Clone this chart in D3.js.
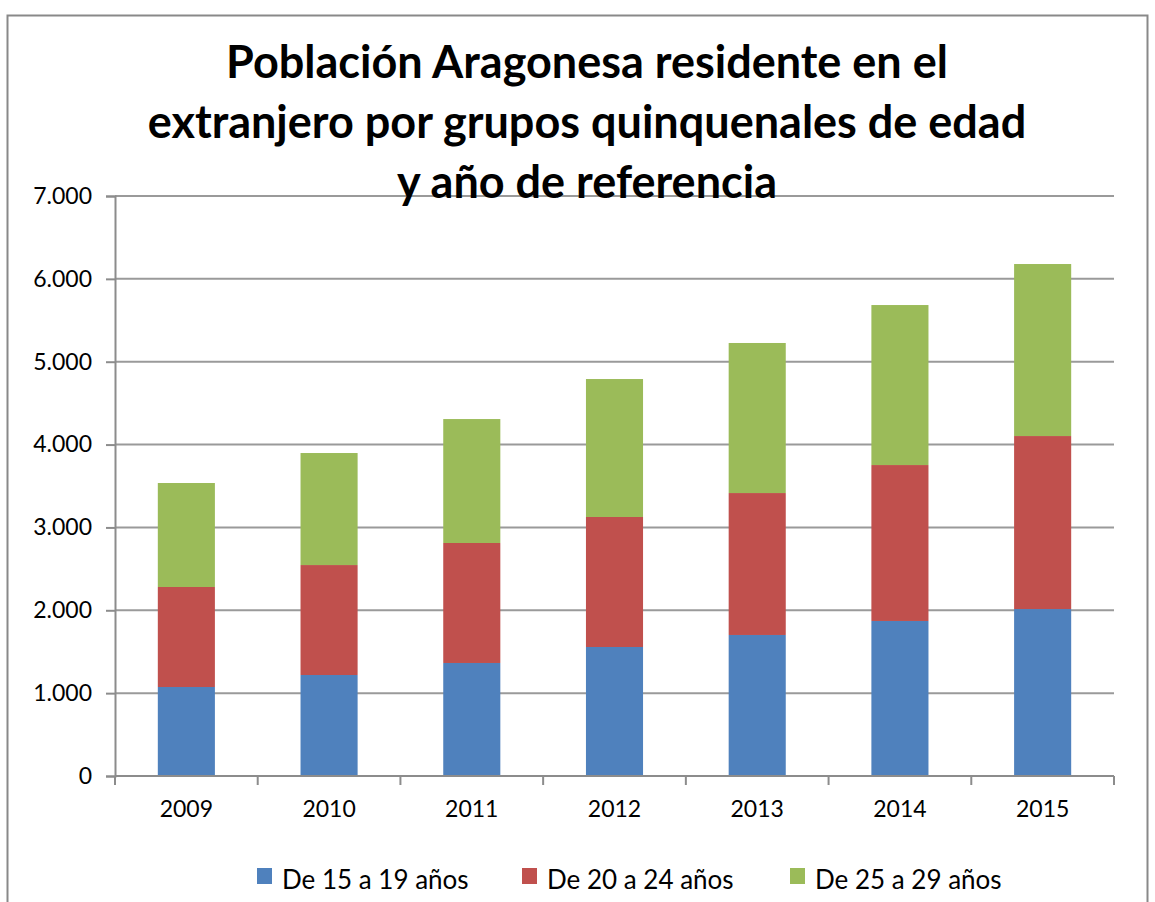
<!DOCTYPE html>
<html><head><meta charset="utf-8">
<script src="https://cdn.jsdelivr.net/npm/d3@7"></script>
<style>
body{margin:0;background:#fff;}
text{font-family:Lato,"Open Sans",sans-serif;fill:#000;}
</style></head>
<body><svg id="c" width="1155" height="902"></svg>
<script>
const years = ["2009","2010","2011","2012","2013","2014","2015"];
const seriesNames = ["De 15 a 19 años","De 20 a 24 años","De 25 a 29 años"];
const s15_19 = [1074,1219,1364,1557,1702,1871,2015];
const s20_24 = [1207,1327,1448,1569,1713,1882,2088];
const s25_29 = [1255,1352,1496,1665,1811,1931,2076];
const yTicks = [0,1000,2000,3000,4000,5000,6000,7000];
const titleLines = ["Población Aragonesa residente en el","extranjero por grupos quinquenales de edad","y año de referencia"];
const colors = ["#4f81bd","#c0504d","#9bbb59"];

(function(){
const rows = years.map((y,i)=>({year:y, a:s15_19[i], b:s20_24[i], c:s25_29[i]}));
const keys = ["a","b","c"];
const svg = d3.select("#c");

// frame
svg.append("rect").attr("x",7.5).attr("y",15.5).attr("width",1140).attr("height",900)
  .attr("fill","none").attr("stroke","#898989").attr("stroke-width",2);

const pL=115, pR=1114, pT=196, pB=776;
const x = d3.scaleBand().domain(years).range([pL,pR]).paddingInner(0.6).paddingOuter(0.3);
const y = d3.scaleLinear().domain([0,7000]).range([pB,pT]);

// gridlines
svg.append("g").selectAll("line").data(yTicks.filter(d=>d>0)).join("line")
  .attr("x1",pL).attr("x2",pR).attr("y1",d=>y(d)).attr("y2",d=>y(d))
  .attr("stroke","#9a9a9a").attr("stroke-width",2);

// bars
const stack = d3.stack().keys(keys)(rows);
svg.append("g").selectAll("g").data(stack).join("g").attr("fill",(d,i)=>colors[i])
  .selectAll("rect").data(d=>d).join("rect")
  .attr("x",d=>x(d.data.year)).attr("width",x.bandwidth())
  .attr("y",d=>y(d[1])).attr("height",d=>y(d[0])-y(d[1]));

// y axis
const yAxis = svg.append("g").attr("transform",`translate(${pL},0)`)
  .call(d3.axisLeft(y).tickValues(yTicks).tickSize(9).tickPadding(14)
    .tickFormat(d=>d3.format(",")(d).replace(/,/g,".")));
yAxis.select(".domain").attr("stroke","#8c8c8c").attr("stroke-width",2);
yAxis.selectAll(".tick line").attr("stroke","#8c8c8c").attr("stroke-width",2);
yAxis.selectAll("text").style("font-size","23px").attr("fill","#000").style("font-family","Lato");

// x axis
const xAxis = svg.append("g").attr("transform",`translate(0,${pB})`)
  .call(d3.axisBottom(x).tickSize(0).tickPadding(25));
xAxis.select(".domain").attr("stroke","#8c8c8c").attr("stroke-width",2).attr("d",`M${pL},0H${pR}`);
xAxis.selectAll("text").style("font-size","23px").attr("fill","#000").style("font-family","Lato");
const bounds = d3.range(years.length+1).map(i=>pL + i*(pR-pL)/years.length);
svg.append("g").selectAll("line").data(bounds).join("line")
  .attr("x1",d=>d).attr("x2",d=>d).attr("y1",pB).attr("y2",pB+9)
  .attr("stroke","#8c8c8c").attr("stroke-width",2);

// title
svg.append("g").selectAll("text").data(titleLines).join("text")
  .attr("x",587).attr("y",(d,i)=>78+i*60).attr("text-anchor","middle")
  .style("font-size","45px").style("font-weight","bold").text(d=>d);

// legend
const legX = [257,522,790];
const leg = svg.append("g").selectAll("g").data(seriesNames).join("g")
  .attr("transform",(d,i)=>`translate(${legX[i]},0)`);
leg.append("rect").attr("x",0).attr("y",868).attr("width",15).attr("height",16).attr("fill",(d,i)=>colors[i]);
leg.append("text").attr("x",25).attr("y",889).style("font-size","26px").text(d=>d);
})();
</script></body></html>
